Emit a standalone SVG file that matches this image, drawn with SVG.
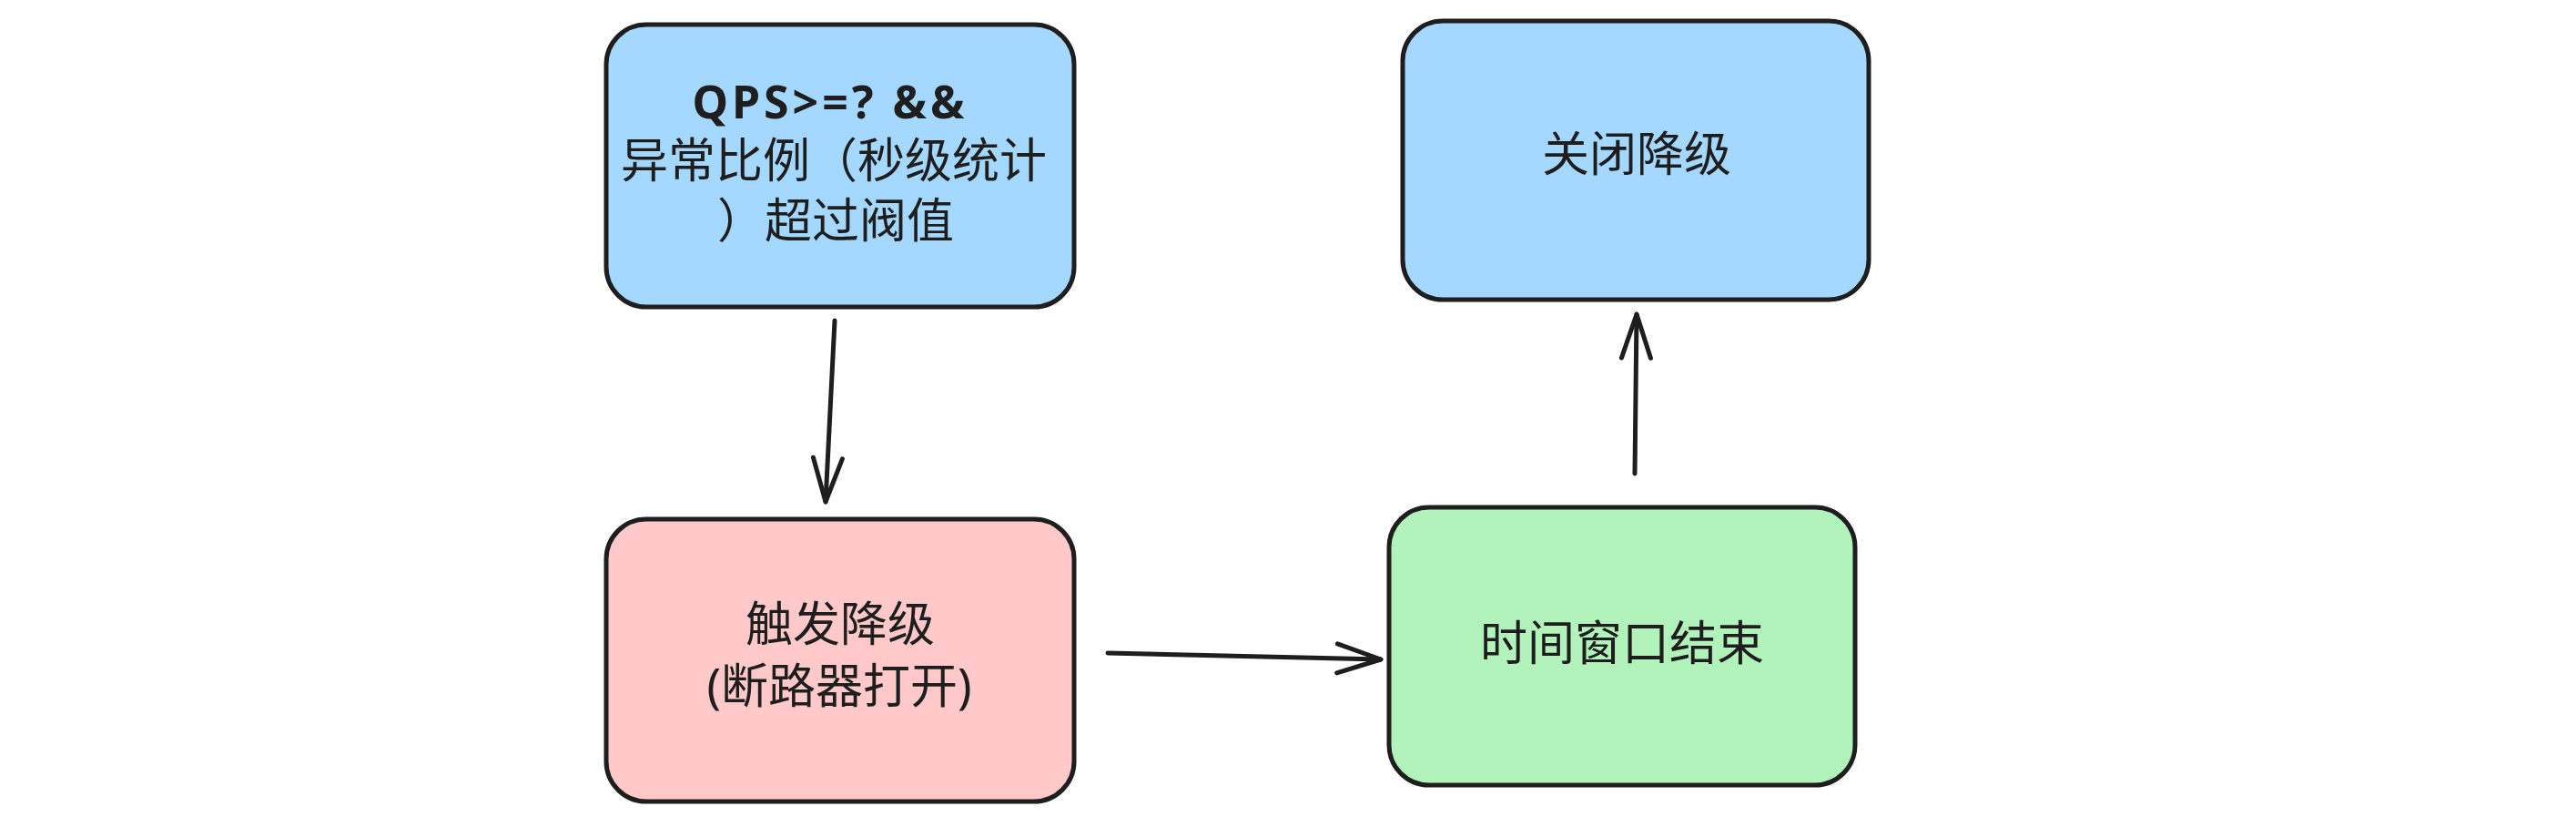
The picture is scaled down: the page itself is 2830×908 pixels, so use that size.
<svg xmlns="http://www.w3.org/2000/svg" width="2830" height="908" viewBox="0 0 2830 908">
<style>
.box{stroke:#1e1e1e;stroke-width:5;stroke-linejoin:round}
.blue{fill:#a5d8ff}
.pink{fill:#ffc9c9}
.green{fill:#b2f2bb}
.t{font-family:"Noto Sans","Noto Sans CJK SC",sans-serif;font-size:52px;fill:#1e1e1e;text-anchor:middle}
.hand{font-family:"Noto Sans",sans-serif;font-weight:700;font-size:50px;letter-spacing:4px;fill:#1e1e1e;text-anchor:middle}
.edge{fill:none;stroke:#1e1e1e;stroke-width:5;stroke-linecap:round}
</style>
<defs>
<marker id="arr" markerUnits="userSpaceOnUse" viewBox="-54 -22 60 44" refX="0" refY="0" markerWidth="60" markerHeight="44" orient="auto">
<path d="M-48,-16 L0,0 L-48,16" fill="none" stroke="#1e1e1e" stroke-width="5" stroke-linecap="round" stroke-linejoin="round"/>
</marker>
</defs>
<rect width="2830" height="908" fill="#ffffff"/>
<g id="node-condition">
<rect class="box blue" x="666" y="27" width="514" height="310" rx="44"/>
<text class="hand" x="912" y="130">QPS&gt;=? &amp;&amp;</text>
<text class="t" x="916" y="195">异常比例（秒级统计</text>
<text class="t" x="918" y="261">）超过阀值</text>
</g>
<g id="node-close">
<rect class="box blue" x="1541" y="23" width="512" height="306" rx="44"/>
<text class="t" x="1798" y="188">关闭降级</text>
</g>
<g id="node-trigger">
<rect class="box pink" x="666" y="570" width="514" height="310" rx="44"/>
<text class="t" x="923" y="704">触发降级</text>
<text class="t" x="922" y="772">(断路器打开)</text>
</g>
<g id="node-window">
<rect class="box green" x="1526" y="557" width="512" height="305" rx="44"/>
<text class="t" x="1782" y="725">时间窗口结束</text>
</g>
<g id="connectors">
<path class="edge" d="M917,352 L907,551" marker-end="url(#arr)"/>
<path class="edge" d="M1217,717 L1517,724" marker-end="url(#arr)"/>
<path class="edge" d="M1796,520 L1798,345" marker-end="url(#arr)"/>
</g>
</svg>
